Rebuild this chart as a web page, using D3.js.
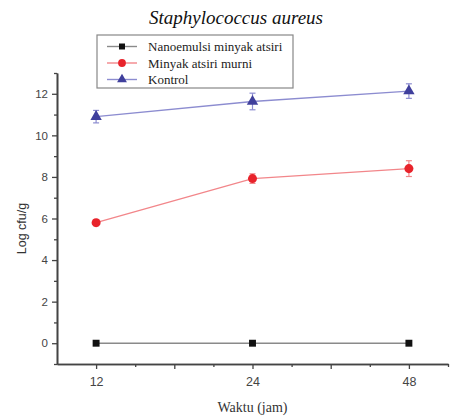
<!DOCTYPE html>
<html>
<head>
<meta charset="utf-8">
<script src="https://cdn.jsdelivr.net/npm/d3@7"></script>
<style>
  body { margin: 0; background: #fff; }
  svg { display: block; }
  .serif { font-family: "Liberation Serif", "Times New Roman", Times, "DejaVu Serif", "Noto Serif", serif; }
</style>
</head>
<body>
<div id="chart"></div>
<script>
// data
const waktu = ["12", "24", "48"];
const nanoemulsi = [0, 0, 0];
const nanoemulsiErr = [0, 0, 0];
const minyakMurni = [5.8, 7.92, 8.4];
const minyakMurniErr = [0.15, 0.23, 0.38];
const kontrol = [10.9, 11.63, 12.13];
const kontrolErr = [0.3, 0.4, 0.35];
const yTicks = [0, 2, 4, 6, 8, 10, 12];

const W = 454, H = 419;
const m = { left: 57, right: 6, top: 73, bottom: 55 };

const svg = d3.select("#chart").append("svg")
  .attr("width", W).attr("height", H);

// x is an index scale (0,1,2) with a quarter step of padding each side
const x = d3.scaleLinear().domain([-0.25, 2.25]).range([m.left, W - m.right]);
const y = d3.scaleLinear().domain([-1, 13]).range([H - m.bottom, m.top]);

const series = [
  { name: "Nanoemulsi minyak atsiri", values: nanoemulsi, err: nanoemulsiErr,
    line: "#8a8a8a", fill: "#111", shape: d3.symbolSquare, size: 48 },
  { name: "Minyak atsiri murni", values: minyakMurni, err: minyakMurniErr,
    line: "#f2868a", fill: "#e8232b", shape: d3.symbolCircle, size: 64 },
  { name: "Kontrol", values: kontrol, err: kontrolErr,
    line: "#8c8cd0", fill: "#3f3f9c", shape: d3.symbolTriangle, size: 56 }
];

// title
svg.append("text")
  .attr("class", "serif")
  .attr("x", 236).attr("y", 24)
  .attr("text-anchor", "middle")
  .attr("font-style", "italic")
  .attr("font-size", 19)
  .attr("fill", "#111")
  .text("Staphylococcus aureus");

// axes
const axisColor = "#444";
const yAxis = svg.append("g").attr("transform", `translate(${m.left},0)`)
  .call(d3.axisLeft(y).tickValues(yTicks).tickSize(5).tickSizeOuter(0).tickPadding(4));
const yMinor = svg.append("g").attr("transform", `translate(${m.left},0)`)
  .call(d3.axisLeft(y).tickValues(d3.range(-1, 14, 2)).tickSize(3).tickFormat("").tickSizeOuter(0));

const xAxis = svg.append("g").attr("transform", `translate(0,${H - m.bottom})`)
  .call(d3.axisBottom(x).tickValues([0, 0.5, 1, 1.5, 2])
    .tickFormat(d => Number.isInteger(d) ? waktu[d] : "")
    .tickSize(5).tickSizeOuter(0).tickPadding(8));
const xMinor = svg.append("g").attr("transform", `translate(0,${H - m.bottom})`)
  .call(d3.axisBottom(x).tickValues([0.25, 0.75, 1.25, 1.75, 2.25])
    .tickSize(3).tickFormat("").tickSizeOuter(0));

[yAxis, yMinor, xAxis, xMinor].forEach(g => {
  g.select(".domain").attr("stroke", axisColor).attr("stroke-width", 1.6);
  g.selectAll(".tick line").attr("stroke", axisColor).attr("stroke-width", 1.3);
  g.selectAll(".tick text")
    .attr("font-family", "'Liberation Sans', Arial, sans-serif")
    .attr("font-size", 11.5).attr("fill", "#444");
});
xAxis.selectAll(".tick text").attr("font-size", 12.5);

// axis titles
svg.append("text")
  .attr("transform", `translate(26,${(m.top + H - m.bottom) / 2 + 10}) rotate(-90)`)
  .attr("text-anchor", "middle")
  .attr("font-family", "'Liberation Sans', Arial, sans-serif")
  .attr("font-size", 12.5)
  .attr("fill", "#333")
  .text("Log cfu/g");

svg.append("text")
  .attr("class", "serif")
  .attr("x", x(1)).attr("y", 412)
  .attr("text-anchor", "middle")
  .attr("font-size", 14)
  .attr("fill", "#333")
  .text("Waktu (jam)");

// series
const line = d3.line().x((d, i) => x(i)).y(d => y(d));

series.forEach(s => {
  const g = svg.append("g");
  g.append("path").datum(s.values)
    .attr("d", line).attr("fill", "none")
    .attr("stroke", s.line).attr("stroke-width", 1.4);

  s.values.forEach((v, i) => {
    const e = s.err[i];
    if (e > 0) {
      g.append("line")
        .attr("x1", x(i)).attr("x2", x(i))
        .attr("y1", y(v - e)).attr("y2", y(v + e))
        .attr("stroke", s.line).attr("stroke-width", 1.2);
      [v - e, v + e].forEach(c => g.append("line")
        .attr("x1", x(i) - 3).attr("x2", x(i) + 3)
        .attr("y1", y(c)).attr("y2", y(c))
        .attr("stroke", s.line).attr("stroke-width", 1.2));
    }
  });

  g.selectAll("path.pt").data(s.values).join("path")
    .attr("class", "pt")
    .attr("transform", (d, i) => `translate(${x(i)},${y(d)})`)
    .attr("d", d3.symbol(s.shape, s.size))
    .attr("fill", s.fill);
});

// legend
const lg = svg.append("g").attr("transform", "translate(97,35)");
lg.append("rect")
  .attr("width", 196).attr("height", 53)
  .attr("fill", "#fff").attr("stroke", "#888").attr("stroke-width", 1.2);

series.forEach((s, i) => {
  const yy = 11.5 + i * 16.5;
  lg.append("line")
    .attr("x1", 10).attr("x2", 40).attr("y1", yy).attr("y2", yy)
    .attr("stroke", s.line).attr("stroke-width", 1.4);
  lg.append("path")
    .attr("transform", `translate(25,${yy})`)
    .attr("d", d3.symbol(s.shape, s.size * 0.75))
    .attr("fill", s.fill);
  lg.append("text")
    .attr("class", "serif")
    .attr("x", 51).attr("y", yy).attr("dy", "0.35em")
    .attr("font-size", 13)
    .attr("fill", "#222")
    .text(s.name);
});
</script>
</body>
</html>
